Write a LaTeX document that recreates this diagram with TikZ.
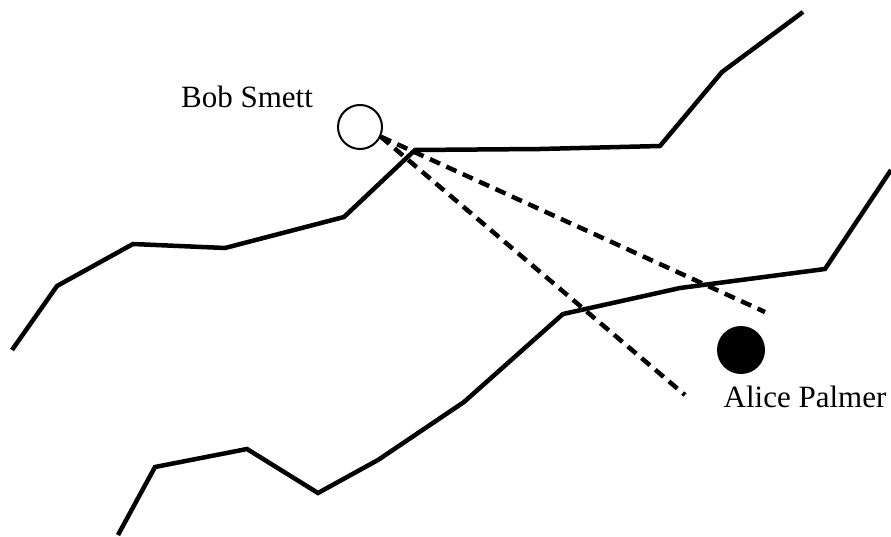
\documentclass[tikz,border=0pt]{standalone}
\usepackage{fontspec}
\setmainfont{Liberation Serif}
\begin{document}
\begin{tikzpicture}[x=1pt,y=-1pt,
  road/.style={line width=4.5pt,line join=miter},
  sight/.style={line width=4.5pt,dash pattern=on 11pt off 7pt},
  lbl/.style={font=\fontsize{31}{34}\selectfont,inner sep=0pt}]
\useasboundingbox (0,0) rectangle (891,537);
\draw[road] (12,350) -- (57,286) -- (133,244) -- (225,248) -- (344,217) -- (415,150) -- (540,149) -- (660,146) -- (722,72) -- (803,12);
\draw[road] (118,535) -- (155,467) -- (247,449) -- (318,493) -- (378,460) -- (464,402) -- (563,314) -- (680,288) -- (825,269) -- (891,170);
\node[circle,draw,line width=2pt,minimum size=44pt,inner sep=0pt] (bob) at (360,127) {};
\node[circle,fill=black,minimum size=48pt,inner sep=0pt] (alice) at (741,350) {};
\node[lbl] (bobl) at (247,97) {Bob Smett};
\node[lbl] (alicel) at (805,397) {Alice Palmer};
\coordinate (e1) at (765,312);
\coordinate (e2) at (685,395);
\draw[sight] (bob.-25) -- (e1);
\draw[sight] (bob.-25) -- (e2);
\end{tikzpicture}
\end{document}
